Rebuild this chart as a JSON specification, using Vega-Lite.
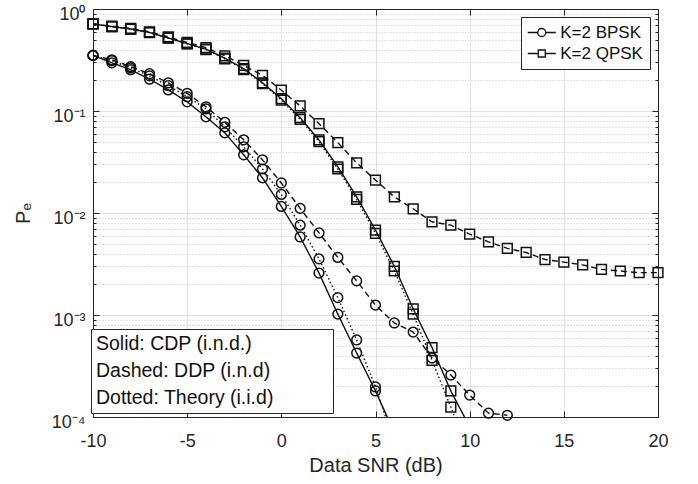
{
  "$schema": "https://vega.github.io/schema/vega-lite/v6.json",
  "width": 565,
  "height": 408,
  "autosize": "none",
  "padding": {"left": 93, "top": 9, "right": 40, "bottom": 67},
  "background": "white",
  "config": {
    "font": "Liberation Sans",
    "view": {"stroke": "#262626", "strokeWidth": 1},
    "axis": {"domainColor": "#262626", "tickColor": "#262626", "labelColor": "#262626", "titleColor": "#262626", "labelFont": "Liberation Sans", "titleFont": "Liberation Sans", "titleFontWeight": "normal", "domainWidth": 1, "tickWidth": 1}
  },
  "data": {"values": [
    {"snr": -10, "pe": 0.351, "mod": "K=2 BPSK", "scheme": "CDP"},
    {"snr": -9, "pe": 0.297, "mod": "K=2 BPSK", "scheme": "CDP"},
    {"snr": -8, "pe": 0.254, "mod": "K=2 BPSK", "scheme": "CDP"},
    {"snr": -7, "pe": 0.205, "mod": "K=2 BPSK", "scheme": "CDP"},
    {"snr": -6, "pe": 0.161, "mod": "K=2 BPSK", "scheme": "CDP"},
    {"snr": -5, "pe": 0.123, "mod": "K=2 BPSK", "scheme": "CDP"},
    {"snr": -4, "pe": 0.0877, "mod": "K=2 BPSK", "scheme": "CDP"},
    {"snr": -3, "pe": 0.061, "mod": "K=2 BPSK", "scheme": "CDP"},
    {"snr": -2, "pe": 0.0372, "mod": "K=2 BPSK", "scheme": "CDP"},
    {"snr": -1, "pe": 0.0221, "mod": "K=2 BPSK", "scheme": "CDP"},
    {"snr": 0, "pe": 0.0116, "mod": "K=2 BPSK", "scheme": "CDP"},
    {"snr": 1, "pe": 0.00582, "mod": "K=2 BPSK", "scheme": "CDP"},
    {"snr": 2, "pe": 0.00258, "mod": "K=2 BPSK", "scheme": "CDP"},
    {"snr": 3, "pe": 0.00102, "mod": "K=2 BPSK", "scheme": "CDP"},
    {"snr": 4, "pe": 0.000424, "mod": "K=2 BPSK", "scheme": "CDP"},
    {"snr": 5, "pe": 0.00018, "mod": "K=2 BPSK", "scheme": "CDP"},
    {"snr": 6, "pe": 0.00007, "mod": "K=2 BPSK", "scheme": "CDP"},
    {"snr": -10, "pe": 0.351, "mod": "K=2 BPSK", "scheme": "DDP"},
    {"snr": -9, "pe": 0.318, "mod": "K=2 BPSK", "scheme": "DDP"},
    {"snr": -8, "pe": 0.272, "mod": "K=2 BPSK", "scheme": "DDP"},
    {"snr": -7, "pe": 0.232, "mod": "K=2 BPSK", "scheme": "DDP"},
    {"snr": -6, "pe": 0.189, "mod": "K=2 BPSK", "scheme": "DDP"},
    {"snr": -5, "pe": 0.149, "mod": "K=2 BPSK", "scheme": "DDP"},
    {"snr": -4, "pe": 0.11, "mod": "K=2 BPSK", "scheme": "DDP"},
    {"snr": -3, "pe": 0.0774, "mod": "K=2 BPSK", "scheme": "DDP"},
    {"snr": -2, "pe": 0.0522, "mod": "K=2 BPSK", "scheme": "DDP"},
    {"snr": -1, "pe": 0.0332, "mod": "K=2 BPSK", "scheme": "DDP"},
    {"snr": 0, "pe": 0.0197, "mod": "K=2 BPSK", "scheme": "DDP"},
    {"snr": 1, "pe": 0.0111, "mod": "K=2 BPSK", "scheme": "DDP"},
    {"snr": 2, "pe": 0.00638, "mod": "K=2 BPSK", "scheme": "DDP"},
    {"snr": 3, "pe": 0.00367, "mod": "K=2 BPSK", "scheme": "DDP"},
    {"snr": 4, "pe": 0.00216, "mod": "K=2 BPSK", "scheme": "DDP"},
    {"snr": 5, "pe": 0.00125, "mod": "K=2 BPSK", "scheme": "DDP"},
    {"snr": 6, "pe": 0.000835, "mod": "K=2 BPSK", "scheme": "DDP"},
    {"snr": 7, "pe": 0.00068, "mod": "K=2 BPSK", "scheme": "DDP"},
    {"snr": 8, "pe": 0.000379, "mod": "K=2 BPSK", "scheme": "DDP"},
    {"snr": 9, "pe": 0.000258, "mod": "K=2 BPSK", "scheme": "DDP"},
    {"snr": 10, "pe": 0.000164, "mod": "K=2 BPSK", "scheme": "DDP"},
    {"snr": 11, "pe": 0.000109, "mod": "K=2 BPSK", "scheme": "DDP"},
    {"snr": 12, "pe": 0.000104, "mod": "K=2 BPSK", "scheme": "DDP"},
    {"snr": -10, "pe": 0.351, "mod": "K=2 BPSK", "scheme": "Theory"},
    {"snr": -9, "pe": 0.311, "mod": "K=2 BPSK", "scheme": "Theory"},
    {"snr": -8, "pe": 0.265, "mod": "K=2 BPSK", "scheme": "Theory"},
    {"snr": -7, "pe": 0.221, "mod": "K=2 BPSK", "scheme": "Theory"},
    {"snr": -6, "pe": 0.177, "mod": "K=2 BPSK", "scheme": "Theory"},
    {"snr": -5, "pe": 0.138, "mod": "K=2 BPSK", "scheme": "Theory"},
    {"snr": -4, "pe": 0.105, "mod": "K=2 BPSK", "scheme": "Theory"},
    {"snr": -3, "pe": 0.07, "mod": "K=2 BPSK", "scheme": "Theory"},
    {"snr": -2, "pe": 0.0446, "mod": "K=2 BPSK", "scheme": "Theory"},
    {"snr": -1, "pe": 0.027, "mod": "K=2 BPSK", "scheme": "Theory"},
    {"snr": 0, "pe": 0.0152, "mod": "K=2 BPSK", "scheme": "Theory"},
    {"snr": 1, "pe": 0.0076, "mod": "K=2 BPSK", "scheme": "Theory"},
    {"snr": 2, "pe": 0.00355, "mod": "K=2 BPSK", "scheme": "Theory"},
    {"snr": 3, "pe": 0.00148, "mod": "K=2 BPSK", "scheme": "Theory"},
    {"snr": 4, "pe": 0.000569, "mod": "K=2 BPSK", "scheme": "Theory"},
    {"snr": 5, "pe": 0.000197, "mod": "K=2 BPSK", "scheme": "Theory"},
    {"snr": 6, "pe": 0.000056, "mod": "K=2 BPSK", "scheme": "Theory"},
    {"snr": -10, "pe": 0.713, "mod": "K=2 QPSK", "scheme": "CDP"},
    {"snr": -9, "pe": 0.672, "mod": "K=2 QPSK", "scheme": "CDP"},
    {"snr": -8, "pe": 0.636, "mod": "K=2 QPSK", "scheme": "CDP"},
    {"snr": -7, "pe": 0.589, "mod": "K=2 QPSK", "scheme": "CDP"},
    {"snr": -6, "pe": 0.52, "mod": "K=2 QPSK", "scheme": "CDP"},
    {"snr": -5, "pe": 0.458, "mod": "K=2 QPSK", "scheme": "CDP"},
    {"snr": -4, "pe": 0.405, "mod": "K=2 QPSK", "scheme": "CDP"},
    {"snr": -3, "pe": 0.33, "mod": "K=2 QPSK", "scheme": "CDP"},
    {"snr": -2, "pe": 0.26, "mod": "K=2 QPSK", "scheme": "CDP"},
    {"snr": -1, "pe": 0.189, "mod": "K=2 QPSK", "scheme": "CDP"},
    {"snr": 0, "pe": 0.132, "mod": "K=2 QPSK", "scheme": "CDP"},
    {"snr": 1, "pe": 0.086, "mod": "K=2 QPSK", "scheme": "CDP"},
    {"snr": 2, "pe": 0.052, "mod": "K=2 QPSK", "scheme": "CDP"},
    {"snr": 3, "pe": 0.0284, "mod": "K=2 QPSK", "scheme": "CDP"},
    {"snr": 4, "pe": 0.0144, "mod": "K=2 QPSK", "scheme": "CDP"},
    {"snr": 5, "pe": 0.0068, "mod": "K=2 QPSK", "scheme": "CDP"},
    {"snr": 6, "pe": 0.003, "mod": "K=2 QPSK", "scheme": "CDP"},
    {"snr": 7, "pe": 0.00115, "mod": "K=2 QPSK", "scheme": "CDP"},
    {"snr": 8, "pe": 0.00048, "mod": "K=2 QPSK", "scheme": "CDP"},
    {"snr": 9, "pe": 0.00018, "mod": "K=2 QPSK", "scheme": "CDP"},
    {"snr": 10, "pe": 0.00008, "mod": "K=2 QPSK", "scheme": "CDP"},
    {"snr": -10, "pe": 0.716, "mod": "K=2 QPSK", "scheme": "DDP"},
    {"snr": -9, "pe": 0.678, "mod": "K=2 QPSK", "scheme": "DDP"},
    {"snr": -8, "pe": 0.645, "mod": "K=2 QPSK", "scheme": "DDP"},
    {"snr": -7, "pe": 0.598, "mod": "K=2 QPSK", "scheme": "DDP"},
    {"snr": -6, "pe": 0.532, "mod": "K=2 QPSK", "scheme": "DDP"},
    {"snr": -5, "pe": 0.47, "mod": "K=2 QPSK", "scheme": "DDP"},
    {"snr": -4, "pe": 0.418, "mod": "K=2 QPSK", "scheme": "DDP"},
    {"snr": -3, "pe": 0.348, "mod": "K=2 QPSK", "scheme": "DDP"},
    {"snr": -2, "pe": 0.28, "mod": "K=2 QPSK", "scheme": "DDP"},
    {"snr": -1, "pe": 0.224, "mod": "K=2 QPSK", "scheme": "DDP"},
    {"snr": 0, "pe": 0.16, "mod": "K=2 QPSK", "scheme": "DDP"},
    {"snr": 1, "pe": 0.112, "mod": "K=2 QPSK", "scheme": "DDP"},
    {"snr": 2, "pe": 0.075, "mod": "K=2 QPSK", "scheme": "DDP"},
    {"snr": 3, "pe": 0.049, "mod": "K=2 QPSK", "scheme": "DDP"},
    {"snr": 4, "pe": 0.031, "mod": "K=2 QPSK", "scheme": "DDP"},
    {"snr": 5, "pe": 0.021, "mod": "K=2 QPSK", "scheme": "DDP"},
    {"snr": 6, "pe": 0.0144, "mod": "K=2 QPSK", "scheme": "DDP"},
    {"snr": 7, "pe": 0.011, "mod": "K=2 QPSK", "scheme": "DDP"},
    {"snr": 8, "pe": 0.0082, "mod": "K=2 QPSK", "scheme": "DDP"},
    {"snr": 9, "pe": 0.0076, "mod": "K=2 QPSK", "scheme": "DDP"},
    {"snr": 10, "pe": 0.0062, "mod": "K=2 QPSK", "scheme": "DDP"},
    {"snr": 11, "pe": 0.0052, "mod": "K=2 QPSK", "scheme": "DDP"},
    {"snr": 12, "pe": 0.0045, "mod": "K=2 QPSK", "scheme": "DDP"},
    {"snr": 13, "pe": 0.0041, "mod": "K=2 QPSK", "scheme": "DDP"},
    {"snr": 14, "pe": 0.0035, "mod": "K=2 QPSK", "scheme": "DDP"},
    {"snr": 15, "pe": 0.0033, "mod": "K=2 QPSK", "scheme": "DDP"},
    {"snr": 16, "pe": 0.0031, "mod": "K=2 QPSK", "scheme": "DDP"},
    {"snr": 17, "pe": 0.0028, "mod": "K=2 QPSK", "scheme": "DDP"},
    {"snr": 18, "pe": 0.0027, "mod": "K=2 QPSK", "scheme": "DDP"},
    {"snr": 19, "pe": 0.0026, "mod": "K=2 QPSK", "scheme": "DDP"},
    {"snr": 20, "pe": 0.0026, "mod": "K=2 QPSK", "scheme": "DDP"},
    {"snr": -10, "pe": 0.713, "mod": "K=2 QPSK", "scheme": "Theory"},
    {"snr": -9, "pe": 0.672, "mod": "K=2 QPSK", "scheme": "Theory"},
    {"snr": -8, "pe": 0.634, "mod": "K=2 QPSK", "scheme": "Theory"},
    {"snr": -7, "pe": 0.586, "mod": "K=2 QPSK", "scheme": "Theory"},
    {"snr": -6, "pe": 0.517, "mod": "K=2 QPSK", "scheme": "Theory"},
    {"snr": -5, "pe": 0.455, "mod": "K=2 QPSK", "scheme": "Theory"},
    {"snr": -4, "pe": 0.4, "mod": "K=2 QPSK", "scheme": "Theory"},
    {"snr": -3, "pe": 0.325, "mod": "K=2 QPSK", "scheme": "Theory"},
    {"snr": -2, "pe": 0.255, "mod": "K=2 QPSK", "scheme": "Theory"},
    {"snr": -1, "pe": 0.185, "mod": "K=2 QPSK", "scheme": "Theory"},
    {"snr": 0, "pe": 0.128, "mod": "K=2 QPSK", "scheme": "Theory"},
    {"snr": 1, "pe": 0.083, "mod": "K=2 QPSK", "scheme": "Theory"},
    {"snr": 2, "pe": 0.05, "mod": "K=2 QPSK", "scheme": "Theory"},
    {"snr": 3, "pe": 0.027, "mod": "K=2 QPSK", "scheme": "Theory"},
    {"snr": 4, "pe": 0.0136, "mod": "K=2 QPSK", "scheme": "Theory"},
    {"snr": 5, "pe": 0.0063, "mod": "K=2 QPSK", "scheme": "Theory"},
    {"snr": 6, "pe": 0.0027, "mod": "K=2 QPSK", "scheme": "Theory"},
    {"snr": 7, "pe": 0.00102, "mod": "K=2 QPSK", "scheme": "Theory"},
    {"snr": 8, "pe": 0.00036, "mod": "K=2 QPSK", "scheme": "Theory"},
    {"snr": 9, "pe": 0.000125, "mod": "K=2 QPSK", "scheme": "Theory"},
    {"snr": 10, "pe": 0.00004, "mod": "K=2 QPSK", "scheme": "Theory"}
  ]},
  "layer": [
    {
      "mark": {"type": "line", "clip": true, "strokeWidth": 1.4, "color": "#111111"},
      "encoding": {
        "x": {"field": "snr", "type": "quantitative",
          "scale": {"domain": [-10, 20], "nice": false, "zero": false},
          "axis": {"orient": "bottom", "values": [-10, -5, 0, 5, 10, 15, 20], "labelExpr": "'' + datum.value", "grid": true, "gridColor": "#e2e2e2", "gridWidth": 1, "tickSize": -6, "labelPadding": 21, "labelFontSize": 18, "labelFlush": false, "title": "Data SNR (dB)", "titleFontSize": 20, "titlePadding": 5}},
        "y": {"field": "pe", "type": "quantitative",
          "scale": {"type": "log", "domain": [0.0001, 1], "nice": false},
          "axis": {"orient": "left",
            "values": [0.0001, 0.0002, 0.0003, 0.0004, 0.0005, 0.0006, 0.0007, 0.0008, 0.0009, 0.001, 0.002, 0.003, 0.004, 0.005, 0.006, 0.007, 0.008, 0.009, 0.01, 0.02, 0.03, 0.04, 0.05, 0.06, 0.07, 0.08, 0.09, 0.1, 0.2, 0.3, 0.4, 0.5, 0.6, 0.7, 0.8, 0.9, 1],
            "labelExpr": "abs(log(datum.value)/LN10 - round(log(datum.value)/LN10)) < 0.001 ? ['10⁰','10⁻¹','10⁻²','10⁻³','10⁻⁴'][-round(log(datum.value)/LN10)] : ''",
            "labelOverlap": false, "labelFontSize": 18, "labelPadding": 14, "labelOffset": 5,
            "grid": true,
            "gridColor": {"condition": {"test": "abs(log(datum.value)/LN10 - round(log(datum.value)/LN10)) < 0.001", "value": "#e2e2e2"}, "value": "#c4c4c4"},
            "gridDash": {"condition": {"test": "abs(log(datum.value)/LN10 - round(log(datum.value)/LN10)) < 0.001", "value": []}, "value": [1, 2]},
            "tickSize": {"condition": {"test": "abs(log(datum.value)/LN10 - round(log(datum.value)/LN10)) < 0.001", "value": -6}, "value": -3},
            "title": "Pₑ", "titleFontSize": 20, "titlePadding": 18}},
        "strokeDash": {"field": "scheme", "type": "nominal",
          "scale": {"domain": ["CDP", "DDP", "Theory"], "range": [[1, 0], [6, 4], [1.5, 2.5]]},
          "legend": {"orient": "none", "legendX": -2, "legendY": 320, "title": null,
            "labelExpr": "{'CDP': 'Solid: CDP (i.n.d.)', 'DDP': 'Dashed: DDP (i.n.d)', 'Theory': 'Dotted: Theory (i.i.d)\u00a0\u00a0\u00a0\u00a0\u00a0\u00a0\u00a0\u00a0\u00a0\u00a0\u200b'}[datum.label]",
            "labelFontSize": 19.5, "labelColor": "#111111", "labelOffset": -19.5, "labelLimit": 400,
            "symbolSize": 0, "symbolOpacity": 0, "symbolStrokeWidth": 0,
            "rowPadding": 6, "padding": 5, "strokeColor": "#262626", "fillColor": "white"}},
        "detail": {"field": "mod", "type": "nominal"}
      }
    },
    {
      "transform": [{"filter": "datum.pe >= 0.0001"}],
      "mark": {"type": "point", "filled": false, "size": 95, "strokeWidth": 1.5, "color": "#111111", "opacity": 1, "clip": false},
      "encoding": {
        "x": {"field": "snr", "type": "quantitative", "axis": null},
        "y": {"field": "pe", "type": "quantitative", "axis": null},
        "shape": {"field": "mod", "type": "nominal", "scale": {"domain": ["K=2 BPSK", "K=2 QPSK"], "range": ["circle", "square"]}, "legend": null}
      }
    },
    {
      "mark": {"type": "point", "filled": false, "opacity": 0, "color": "#111111"},
      "encoding": {
        "x": {"field": "snr", "type": "quantitative",
          "axis": {"orient": "top", "values": [-10, -5, 0, 5, 10, 15, 20], "labels": false, "title": null, "grid": false, "tickSize": -6, "domain": true}},
        "y": {"field": "pe", "type": "quantitative",
          "axis": {"orient": "right",
            "values": [0.0001, 0.0002, 0.0003, 0.0004, 0.0005, 0.0006, 0.0007, 0.0008, 0.0009, 0.001, 0.002, 0.003, 0.004, 0.005, 0.006, 0.007, 0.008, 0.009, 0.01, 0.02, 0.03, 0.04, 0.05, 0.06, 0.07, 0.08, 0.09, 0.1, 0.2, 0.3, 0.4, 0.5, 0.6, 0.7, 0.8, 0.9, 1],
            "labels": false, "title": null, "grid": false, "domain": true,
            "tickSize": {"condition": {"test": "abs(log(datum.value)/LN10 - round(log(datum.value)/LN10)) < 0.001", "value": -6}, "value": -3}}},
        "shape": {"field": "mod", "type": "nominal",
          "scale": {"domain": ["K=2 BPSK", "K=2 QPSK"], "range": ["M-2.8,0L-0.8,0M0.8,0L2.8,0M0.8,0A0.8,0.8,0,1,1,-0.8,0A0.8,0.8,0,1,1,0.8,0", "M-2.8,0L-0.7,0M0.7,0L2.8,0M-0.7,-0.7L0.7,-0.7L0.7,0.7L-0.7,0.7Z"]},
          "legend": {"orient": "top-right", "offset": 8, "title": null,
            "labelFontSize": 17, "labelColor": "#111111", "labelOffset": 10,
            "symbolSize": 100, "symbolOffset": 5.25, "symbolOpacity": 1, "symbolStrokeColor": "#111111", "symbolFillColor": "transparent", "symbolStrokeWidth": 1.3,
            "rowPadding": 3, "padding": 7, "strokeColor": "#262626", "fillColor": "white"}}
      }
    }
  ],
  "resolve": {"scale": {"shape": "independent"}, "axis": {"x": "independent", "y": "independent"}}
}
